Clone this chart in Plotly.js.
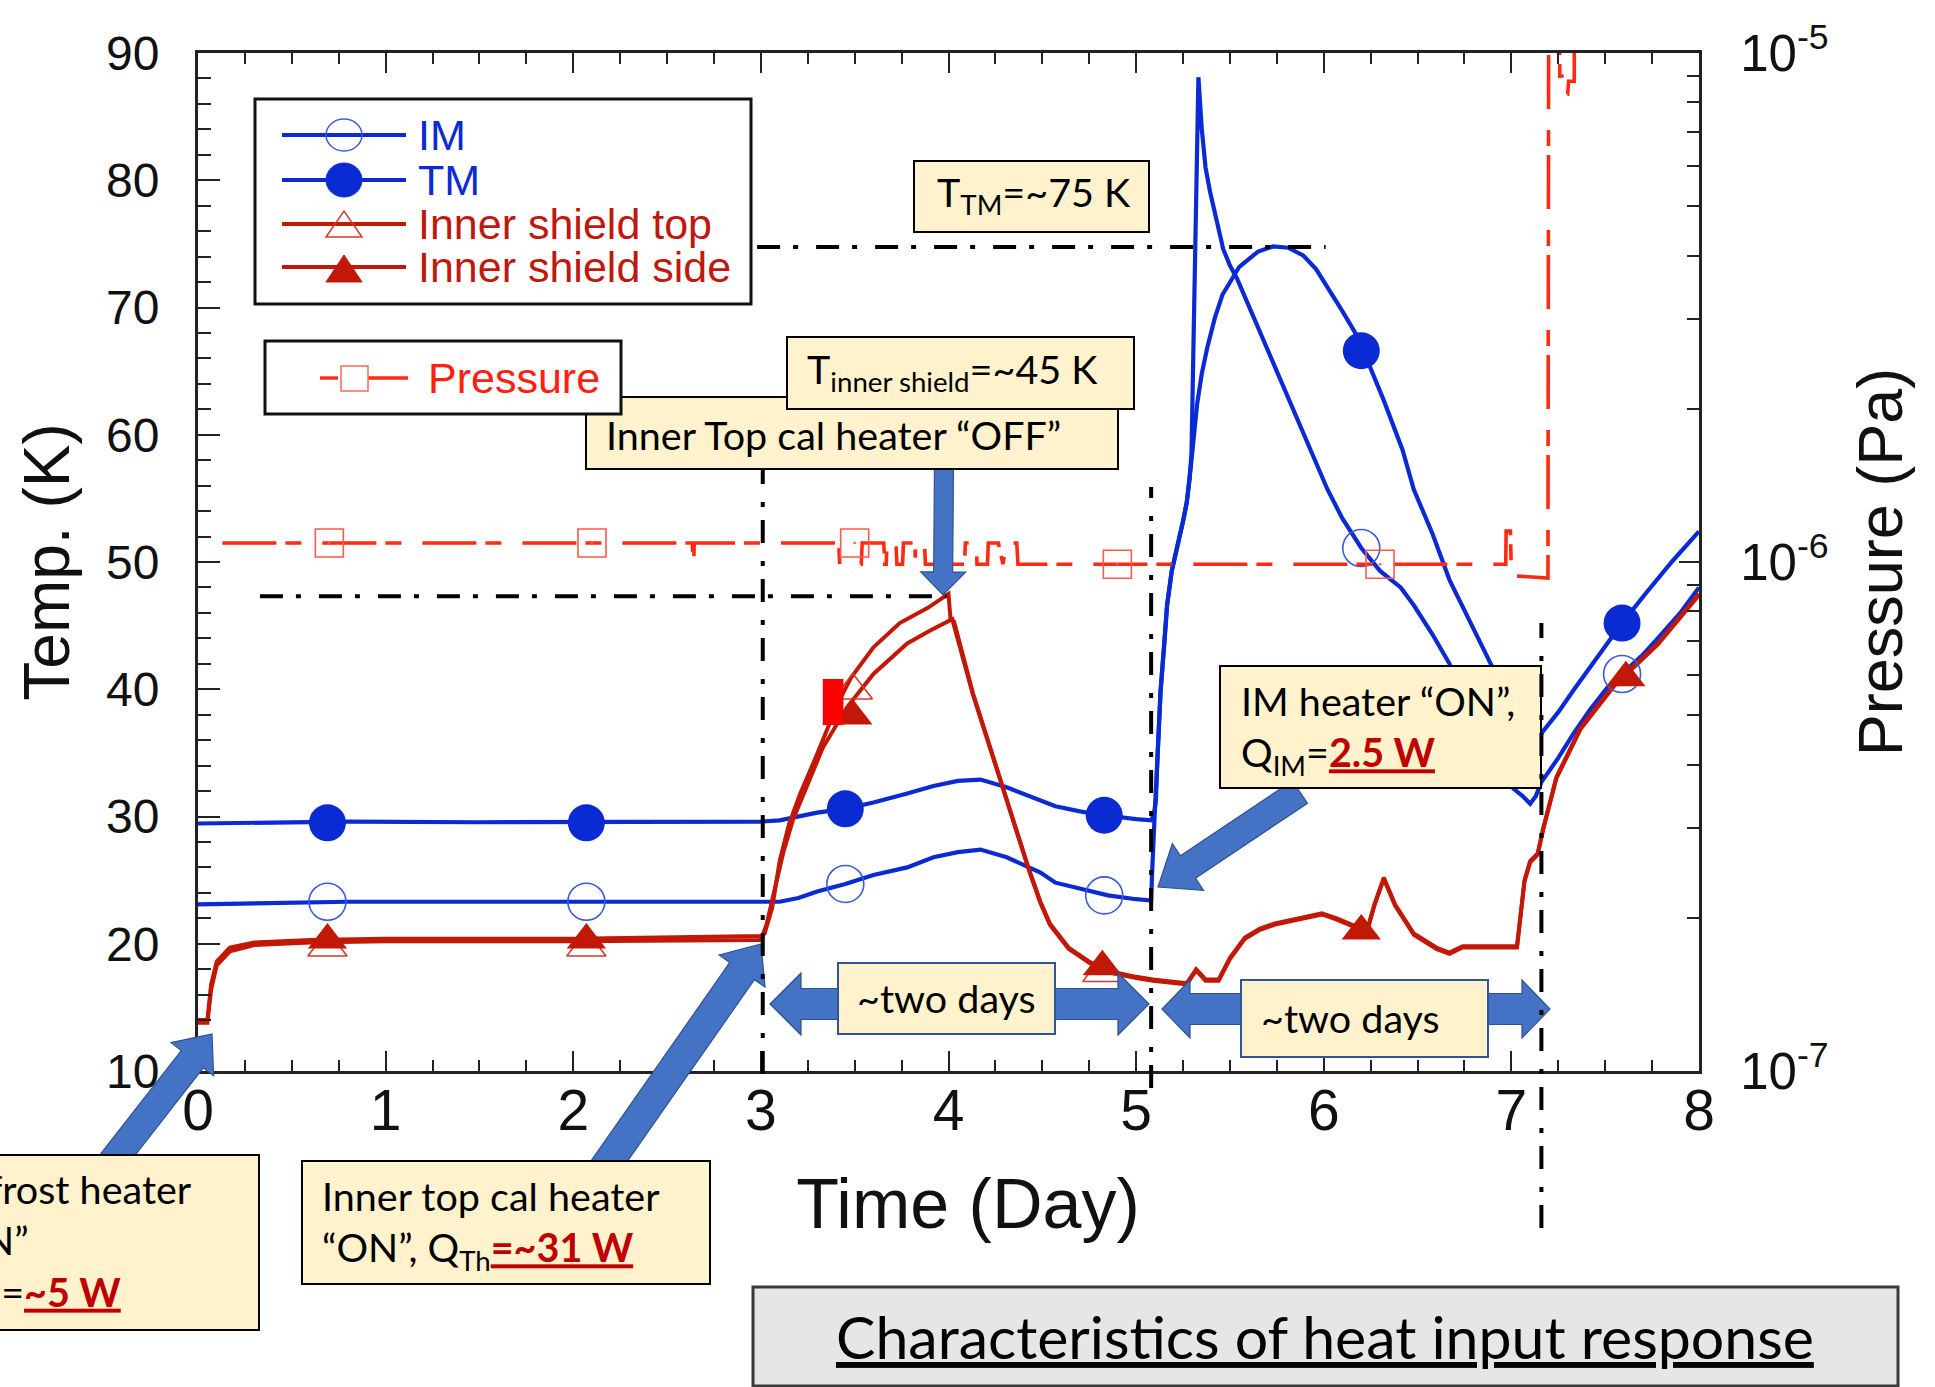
<!DOCTYPE html>
<html><head><meta charset="utf-8">
<script src="https://cdn.plot.ly/plotly-3.0.1.min.js"></script>
<style>html,body{margin:0;padding:0;background:#fff;}#chart{width:1935px;height:1387px;}</style>
</head><body><div id="chart"></div>
<script>
// ---------------- data ----------------
const days_IM = [0,0.3,0.8,1.5,2.2,2.8,3.0,3.1,3.2,3.3,3.45,3.6,3.78,3.92,4.05,4.17,4.31,4.49,4.57,4.7,4.85,5.0,5.08,
  5.085,5.09,5.1,5.115,5.13,5.15,5.165,5.19,5.22,5.25,5.27,5.285,5.295,5.31,5.332,5.35,5.37,5.394,5.43,5.464,5.5,5.537,
  5.61,5.68,5.77,5.855,5.94,6.02,6.1,6.2,6.3,6.41,6.48,6.58,6.67,6.8,6.9,6.97,7.01,7.06,7.1,7.13,7.16,7.25,7.33,7.42,
  7.51,7.59,7.7,7.78,7.9,8.0];
const temp_IM = [23.1,23.2,23.3,23.3,23.3,23.3,23.3,23.3,23.6,24.1,24.7,25.4,26.0,26.8,27.2,27.4,26.8,25.6,24.8,24.3,23.8,23.5,23.4,
  25.5,27.5,30.5,35.0,39.8,43.6,46.6,49.3,51.1,53.2,54.7,56.5,58.5,70.0,88.1,84.0,81.0,79.1,76.6,74.6,73.3,72.3,
  69.8,67.4,64.3,61.5,58.5,55.7,53.4,51.1,49.3,48.0,46.6,44.3,42.0,38.2,35.3,33.3,32.2,31.6,31.0,31.6,32.7,34.6,36.5,38.4,
  40.1,41.2,42.7,44.0,46.0,48.0];

const days_TM = [0,0.3,0.8,1.5,2.2,2.8,3.0,3.1,3.2,3.3,3.45,3.6,3.78,3.92,4.05,4.17,4.31,4.45,4.57,4.7,4.83,5.0,5.08,
  5.095,5.105,5.115,5.13,5.15,5.165,5.19,5.22,5.25,5.27,5.285,5.295,5.325,5.35,5.38,5.42,5.46,5.55,5.65,5.73,5.81,5.89,
  5.96,6.03,6.1,6.18,6.25,6.32,6.42,6.48,6.58,6.67,6.78,6.89,7.0,7.08,7.12,7.16,7.25,7.33,7.46,7.59,7.72,7.86,8.0];
const temp_TM = [29.45,29.5,29.6,29.55,29.6,29.6,29.6,29.7,30.0,30.3,30.6,31.1,31.8,32.4,32.8,32.9,32.3,31.5,30.8,30.4,30.1,29.8,29.7,
  30.2,31.2,35.0,39.8,43.6,46.6,49.3,51.1,53.2,54.7,56.5,58.0,62.4,64.8,66.9,69.2,71.0,73.2,74.4,74.8,74.7,74.1,
  73.0,71.4,69.7,67.7,65.2,62.7,58.8,55.7,52.2,48.6,45.3,42.0,38.8,36.3,35.8,36.5,38.2,39.9,42.5,45.2,47.6,50.1,52.4];

const days_top = [0,0.05,0.07,0.1,0.17,0.3,0.6,1.0,2.0,2.6,3.0,3.02,3.06,3.1,3.15,3.21,3.3,3.41,3.48,3.6,3.74,3.89,4.0,4.01,4.03,
  4.13,4.29,4.4,4.43,4.49,4.54,4.64,4.75,4.84,5.0,5.09,5.2,5.27,5.32,5.37,5.44,5.5,5.58,5.66,5.74,5.86,5.99,6.07,6.15,6.23,
  6.27,6.32,6.38,6.48,6.6,6.67,6.74,7.03,7.07,7.1,7.14,7.17,7.24,7.37,7.55,7.78,8.0];
const temp_top = [14.0,14.0,16.8,18.6,19.7,20.1,20.3,20.4,20.4,20.5,20.6,20.8,22.8,26.5,29.4,31.8,34.9,38.9,40.9,43.3,45.2,46.4,47.5,45.6,45.3,
  39.7,32.3,27.1,25.8,23.3,21.6,19.7,18.6,17.9,17.4,17.2,17.0,16.9,18.0,17.2,17.2,18.9,20.5,21.2,21.6,22.0,22.4,22.0,21.5,21.0,
  23.1,25.2,23.1,20.8,19.7,19.3,19.8,19.8,25.0,26.5,27.1,29.1,33.1,37.0,40.4,43.6,47.5];

const days_side = [0,0.05,0.07,0.1,0.17,0.3,0.6,1.0,2.0,2.6,3.0,3.03,3.07,3.12,3.17,3.25,3.33,3.46,3.6,3.78,3.9,4.02,
  4.13,4.29,4.4,4.43,4.49,4.54,4.64,4.75,4.84,5.0,5.09,5.2,5.27,5.32,5.37,5.44,5.5,5.58,5.66,5.74,5.86,5.99,6.07,6.15,6.23,
  6.27,6.32,6.38,6.48,6.6,6.67,6.74,7.03,7.07,7.1,7.14,7.17,7.24,7.37,7.55,7.78,8.0];
const temp_side = [13.8,13.8,16.4,18.3,19.4,19.9,20.1,20.2,20.2,20.3,20.3,21.5,24.0,27.2,29.7,32.5,35.4,38.6,41.2,43.6,44.6,45.5,
  39.6,32.2,27.0,25.7,23.2,21.5,19.6,18.5,17.8,17.3,17.1,16.9,16.8,17.9,17.1,17.1,18.8,20.4,21.1,21.5,21.9,22.3,21.9,21.4,20.9,
  23.0,25.1,23.0,20.7,19.6,19.2,19.7,19.7,24.9,26.4,27.0,29.0,33.0,36.9,40.3,43.5,47.4];

const days_P = [0.13,2.635,2.638,2.642,2.645,3.415,3.42,3.535,3.54,3.655,3.66,3.668,3.672,3.72,3.725,3.755,3.76,3.82,3.823,3.826,
  3.872,3.877,4.085,4.09,4.148,4.152,4.208,4.212,4.266,4.29,4.31,4.364,4.37,6.97,6.972,6.995,7.0,7.195,7.2,7.255,7.258,7.27,
  7.275,7.3,7.305,7.335,7.34,8.0];
const pres_P = [1.09e-6,1.09e-6,0.99e-6,0.99e-6,1.09e-6,1.09e-6,0.99e-6,0.99e-6,1.09e-6,1.09e-6,0.99e-6,0.99e-6,1.09e-6,1.09e-6,
  0.99e-6,0.99e-6,1.09e-6,1.09e-6,1.02e-6,1.09e-6,1.09e-6,0.99e-6,0.99e-6,1.09e-6,1.09e-6,0.99e-6,0.99e-6,1.09e-6,1.09e-6,
  0.99e-6,1.09e-6,1.09e-6,0.99e-6,0.99e-6,1.15e-6,1.15e-6,0.94e-6,0.93e-6,3e-5,3e-5,9.0e-6,9.0e-6,8.3e-6,8.3e-6,8.8e-6,8.8e-6,3e-5,3e-5];

const mkIM_x = [0.69,2.07,3.45,4.83,6.2,7.59],  mkIM_y = [23.3,23.3,24.7,23.8,51.1,41.2];
const mkTM_x = [0.69,2.07,3.45,4.83,6.2,7.59],  mkTM_y = [29.5,29.5,30.6,30.1,66.6,45.2];
const mkTop_x = [0.69,2.07,3.49,4.82],          mkTop_y = [19.7,19.7,39.9,17.7];
const mkSide_x = [0.69,2.07,3.49,4.82,6.2,7.61], mkSide_y = [20.3,20.3,37.9,18.2,21.0,40.9];
const mkP_x = [0.70,2.10,3.50,4.90,6.30],       mkP_y = [1.09e-6,1.09e-6,1.09e-6,0.99e-6,0.99e-6];

const presTickVals = [1e-7,1e-6,1e-5];
const presTickText = ['10<sup>-7</sup>','10<sup>-6</sup>','10<sup>-5</sup>'];
const presMinor = [2e-7,3e-7,4e-7,5e-7,6e-7,7e-7,8e-7,9e-7,2e-6,3e-6,4e-6,5e-6,6e-6,7e-6,8e-6,9e-6];
const refDays = [3.01, 5.08, 7.16];          // vertical dash-dot guides
const refTemps = [74.75, 47.3];              // horizontal dash-dot guides (T_TM, T_shield)
const refTempSpan = [[2.98, 6.01], [0.33, 3.99]];
const redPatch = {x: [3.33, 3.44], y: [37.2, 40.8]};

// ---------------- styling ----------------
const BLUE = '#0a2bd4', RED = '#c21807', PRED = '#ff2a12', BOXFILL = '#FFF2CC';
const AXF = 'Liberation Sans, Arial, sans-serif';
const BOXF = 'Lato, sans-serif';
const BOXSIZE = 39.5;
const L = 198, R = 1699, T = 53, B = 1071;
const px = x => (x - L) / (R - L);
const py = y => (B - y) / (B - T);
const pt = (p) => px(p[0]).toFixed(5) + ',' + py(p[1]).toFixed(5);

function blockArrow(x0, y0, x1, y1, sw, hw, hl) {
  const len = Math.hypot(x1 - x0, y1 - y0), dx = (x1 - x0) / len, dy = (y1 - y0) / len, nx = -dy, ny = dx;
  const bx = x1 - dx * hl, by = y1 - dy * hl;
  const pts = [[x0 + nx * sw / 2, y0 + ny * sw / 2], [bx + nx * sw / 2, by + ny * sw / 2], [bx + nx * hw / 2, by + ny * hw / 2],
    [x1, y1], [bx - nx * hw / 2, by - ny * hw / 2], [bx - nx * sw / 2, by - ny * sw / 2], [x0 - nx * sw / 2, y0 - ny * sw / 2]];
  return {type: 'path', xref: 'paper', yref: 'paper', path: 'M' + pts.map(pt).join('L') + 'Z',
    fillcolor: '#4472C4', line: {color: '#2F528F', width: 1.2}, layer: 'above'};
}
function doubleArrow(x0, y0, x1, y1, sw, hw, hl) {
  const len = Math.hypot(x1 - x0, y1 - y0), dx = (x1 - x0) / len, dy = (y1 - y0) / len, nx = -dy, ny = dx;
  const a = [x0 + dx * hl, y0 + dy * hl], b = [x1 - dx * hl, y1 - dy * hl];
  const pts = [[x0, y0], [a[0] + nx * hw / 2, a[1] + ny * hw / 2], [a[0] + nx * sw / 2, a[1] + ny * sw / 2],
    [b[0] + nx * sw / 2, b[1] + ny * sw / 2], [b[0] + nx * hw / 2, b[1] + ny * hw / 2], [x1, y1],
    [b[0] - nx * hw / 2, b[1] - ny * hw / 2], [b[0] - nx * sw / 2, b[1] - ny * sw / 2],
    [a[0] - nx * sw / 2, a[1] - ny * sw / 2], [a[0] - nx * hw / 2, a[1] - ny * hw / 2]];
  return {type: 'path', xref: 'paper', yref: 'paper', path: 'M' + pts.map(pt).join('L') + 'Z',
    fillcolor: '#4472C4', line: {color: '#2F528F', width: 1.2}, layer: 'above'};
}
function rectShape(x0, y0, x1, y1, fill, lc, lw) {
  return {type: 'rect', xref: 'paper', yref: 'paper', x0: px(x0), x1: px(x1), y0: py(y1), y1: py(y0),
    fillcolor: fill, line: {color: lc, width: lw}, layer: 'above'};
}
function ptext(x, y, text, color, size, family, xanchor) {
  return {xref: 'paper', yref: 'paper', x: px(x), y: py(y), xanchor: xanchor || 'left', yanchor: 'middle', showarrow: false,
    text: text, align: xanchor === 'center' ? 'center' : 'left', borderpad: 0,
    font: {family: family || AXF, size: size || 43, color: color}};
}
const dd = '23px,13px,5px,18px';
const red = s => '<span style="color:#C00000"><b><u>' + s + '</u></b></span>';

// callout boxes: rectangle [x0,y0,x1,y1] in page pixels, text anchor (tx, ty)
const callouts = [
  {r: [586, 397, 1118, 469], tx: 605, ty: 435, text: 'Inner Top cal heater “OFF”'},
  {r: [787, 337, 1134, 409], tx: 806, ty: 372, text: 'T<sub>inner shield</sub>=~45 K'},
  {r: [914, 161, 1149, 232], tx: 936, ty: 195, text: 'T<sub>TM</sub>=~75 K'},
  {r: [1220, 666, 1541, 788], tx: 1240, ty: 729, text: 'IM heater “ON”,<br>Q<sub>IM</sub>=' + red('2.5 W')},
  {r: [838, 963, 1055, 1034], tx: 946, ty: 997, text: '~two days', bc: '#2F5597', center: true},
  {r: [1241, 980, 1488, 1057], tx: 1260, ty: 1017, text: '~two days', bc: '#2F5597'},
  {r: [302, 1161, 710, 1284], tx: 321, ty: 1224, text: 'Inner top cal heater<br>“ON”, Q<sub>Th</sub>' + red('=~31 W')},
  {r: [-80, 1155, 259, 1330], tx: -63, ty: 1243, text: 'Defrost heater<br>“ON”<br>Q<sub>Th</sub>=' + red('~5 W')},
  {r: [753, 1287, 1898, 1386], tx: 1325, ty: 1336, text: '<u>Characteristics of heat input response</u>', bg: '#E7E6E6', bc: '#3a3a3a', bw: 3, size: 59, center: true}
];

// ---------------- traces ----------------
const traces = [
  {x: days_IM, y: temp_IM, mode: 'lines', line: {color: BLUE, width: 4.2}, hoverinfo: 'skip'},
  {x: days_TM, y: temp_TM, mode: 'lines', line: {color: BLUE, width: 4.2}, hoverinfo: 'skip'},
  {x: days_side, y: temp_side, mode: 'lines', line: {color: RED, width: 4}, hoverinfo: 'skip'},
  {x: days_top, y: temp_top, mode: 'lines', line: {color: RED, width: 4}, hoverinfo: 'skip'},
  {x: mkIM_x, y: mkIM_y, mode: 'markers', marker: {symbol: 'circle-open', size: 37, color: '#3a5ae0', line: {width: 1.6}}},
  {x: mkTM_x, y: mkTM_y, mode: 'markers', marker: {symbol: 'circle', size: 37, color: BLUE}},
  {x: mkTop_x, y: mkTop_y, mode: 'markers', marker: {symbol: 'triangle-up-open', size: 34, color: '#d53a2a', line: {width: 1.6}}},
  {x: mkSide_x, y: mkSide_y, mode: 'markers', marker: {symbol: 'triangle-up', size: 34, color: RED}},
  {x: days_P, y: pres_P, yaxis: 'y2', mode: 'lines', line: {color: PRED, width: 3.6, dash: '54px,9px,16px,21px'}},
  {x: mkP_x, y: mkP_y, yaxis: 'y2', mode: 'markers', marker: {symbol: 'square-open-dot', size: 28, color: '#ff5a48', line: {width: 1.6}}}
];

// ---------------- shapes ----------------
const shapes = [];
shapes.push(blockArrow(944, 462, 943, 595, 19, 45, 23));
shapes.push(blockArrow(603, 1170, 761, 944, 30, 56, 33));
shapes.push(blockArrow(112, 1162, 212, 1034, 28, 54, 32));
shapes.push(blockArrow(1300, 792, 1158, 887, 27, 56, 36));
shapes.push(doubleArrow(770, 1004, 1149, 1004, 31, 62, 31));
shapes.push(doubleArrow(1162, 1009, 1550, 1009, 31, 58, 28));
callouts.forEach(c => shapes.push(rectShape(c.r[0], c.r[1], c.r[2], c.r[3], c.bg || BOXFILL, c.bc || '#000', c.bw || 2)));
refDays.forEach((d, i) => {
  const tops = [469, 487, 623], bots = [1074, 1088, 1228];
  shapes.push({type: 'line', xref: 'x', yref: 'paper', x0: d, x1: d, y0: py(bots[i]), y1: py(tops[i]),
    line: {color: '#000', width: 4, dash: dd}, layer: 'above'});
});
refTemps.forEach((t, i) => shapes.push({type: 'line', xref: 'x', yref: 'y', x0: refTempSpan[i][0], x1: refTempSpan[i][1],
  y0: t, y1: t, line: {color: '#000', width: 4, dash: dd}, layer: 'above'}));
shapes.push({type: 'rect', xref: 'x', yref: 'y', x0: redPatch.x[0], x1: redPatch.x[1], y0: redPatch.y[0], y1: redPatch.y[1],
  fillcolor: '#ff0000', line: {width: 0}, layer: 'above'});
// legend frames and samples
shapes.push(rectShape(255, 99, 751, 304, '#fff', '#111', 3));
shapes.push(rectShape(265, 341, 621, 414, '#fff', '#111', 3));
const legRows = [[135, BLUE], [180, BLUE], [224, RED], [267, RED]];
legRows.forEach(r => shapes.push({type: 'line', xref: 'paper', yref: 'paper', x0: px(282), x1: px(406), y0: py(r[0]), y1: py(r[0]),
  line: {color: r[1], width: 4}, layer: 'above'}));
shapes.push({type: 'circle', xref: 'paper', yref: 'paper', x0: px(326), x1: px(362), y0: py(151), y1: py(119),
  line: {color: '#3a5ae0', width: 1.5}, fillcolor: 'rgba(0,0,0,0)', layer: 'above'});
shapes.push({type: 'circle', xref: 'paper', yref: 'paper', x0: px(326), x1: px(362), y0: py(197), y1: py(163),
  line: {color: BLUE, width: 1}, fillcolor: BLUE, layer: 'above'});
shapes.push({type: 'path', xref: 'paper', yref: 'paper', path: 'M' + [[326, 237], [362, 237], [344, 211]].map(pt).join('L') + 'Z',
  line: {color: '#d53a2a', width: 1.5}, fillcolor: 'rgba(0,0,0,0)', layer: 'above'});
shapes.push({type: 'path', xref: 'paper', yref: 'paper', path: 'M' + [[326, 282], [362, 282], [344, 255]].map(pt).join('L') + 'Z',
  line: {color: RED, width: 1}, fillcolor: RED, layer: 'above'});
shapes.push({type: 'line', xref: 'paper', yref: 'paper', x0: px(320), x1: px(338), y0: py(378), y1: py(378), line: {color: PRED, width: 3.4}, layer: 'above'});
shapes.push({type: 'line', xref: 'paper', yref: 'paper', x0: px(368), x1: px(408), y0: py(378), y1: py(378), line: {color: PRED, width: 3.4}, layer: 'above'});
shapes.push({type: 'rect', xref: 'paper', yref: 'paper', x0: px(341), x1: px(368), y0: py(391), y1: py(366),
  line: {color: '#ff6a5a', width: 1.5}, fillcolor: 'rgba(0,0,0,0)', layer: 'above'});

// ---------------- annotations ----------------
const annotations = callouts.map(c => ptext(c.tx, c.ty, c.text, '#000', c.size || BOXSIZE, BOXF, c.center ? 'center' : 'left'));
annotations.push(ptext(417, 135, 'IM', BLUE), ptext(417, 180, 'TM', BLUE),
  ptext(417, 224, 'Inner shield top', '#c0180c'), ptext(417, 267, 'Inner shield side', '#c0180c'),
  ptext(427, 378, 'Pressure', '#ff2010'));

const layout = {
  width: 1935, height: 1387, margin: {l: L, r: 1935 - R, t: T, b: 1387 - B, pad: 0},
  paper_bgcolor: '#fff', plot_bgcolor: '#fff', showlegend: false,
  font: {family: AXF, color: '#111'},
  xaxis: {range: [0, 8], tickmode: 'linear', tick0: 0, dtick: 1, ticks: 'inside', ticklen: 20, tickwidth: 2, tickcolor: '#222',
    showline: true, linecolor: '#222', linewidth: 3, mirror: 'ticks', showgrid: false, zeroline: false, automargin: false,
    tickfont: {family: AXF, size: 57, color: '#111'}, ticklabelstandoff: -12,
    minor: {dtick: 0.25, ticks: 'inside', ticklen: 11, tickwidth: 2, tickcolor: '#222', showgrid: false},
    title: {text: '\u200b\u00a0\u00a0Time (Day)', font: {family: AXF, size: 70, color: '#111'}, standoff: 38}},
  yaxis: {range: [10, 90], tickmode: 'linear', tick0: 10, dtick: 10, ticks: 'inside', ticklen: 22, tickwidth: 2, tickcolor: '#222',
    showline: true, linecolor: '#222', linewidth: 3, mirror: false, showgrid: false, zeroline: false, automargin: false,
    tickfont: {family: AXF, size: 48, color: '#111'}, ticklabelstandoff: 26,
    minor: {dtick: 2, ticks: 'inside', ticklen: 13, tickwidth: 2, tickcolor: '#222', showgrid: false},
    title: {text: 'Temp. (K)', font: {family: AXF, size: 64, color: '#111'}, standoff: 16}},
  yaxis2: {type: 'log', range: [-7, -5], overlaying: 'y', side: 'right', anchor: 'x',
    tickmode: 'array', tickvals: presTickVals, ticktext: presTickText, ticks: 'inside', ticklen: 20, tickwidth: 2, tickcolor: '#222',
    showline: true, linecolor: '#222', linewidth: 3, showgrid: false, zeroline: false, automargin: false,
    tickfont: {family: AXF, size: 51, color: '#111'}, ticklabelstandoff: 28,
    minor: {tickmode: 'array', tickvals: presMinor, ticks: 'inside', ticklen: 12, tickwidth: 2, tickcolor: '#222', showgrid: false},
    title: {text: 'Pressure (Pa)', font: {family: AXF, size: 63, color: '#111'}, standoff: 31}},
  shapes: shapes, annotations: annotations
};
Plotly.newPlot('chart', traces, layout, {displayModeBar: false, staticPlot: true});
</script></body></html>
